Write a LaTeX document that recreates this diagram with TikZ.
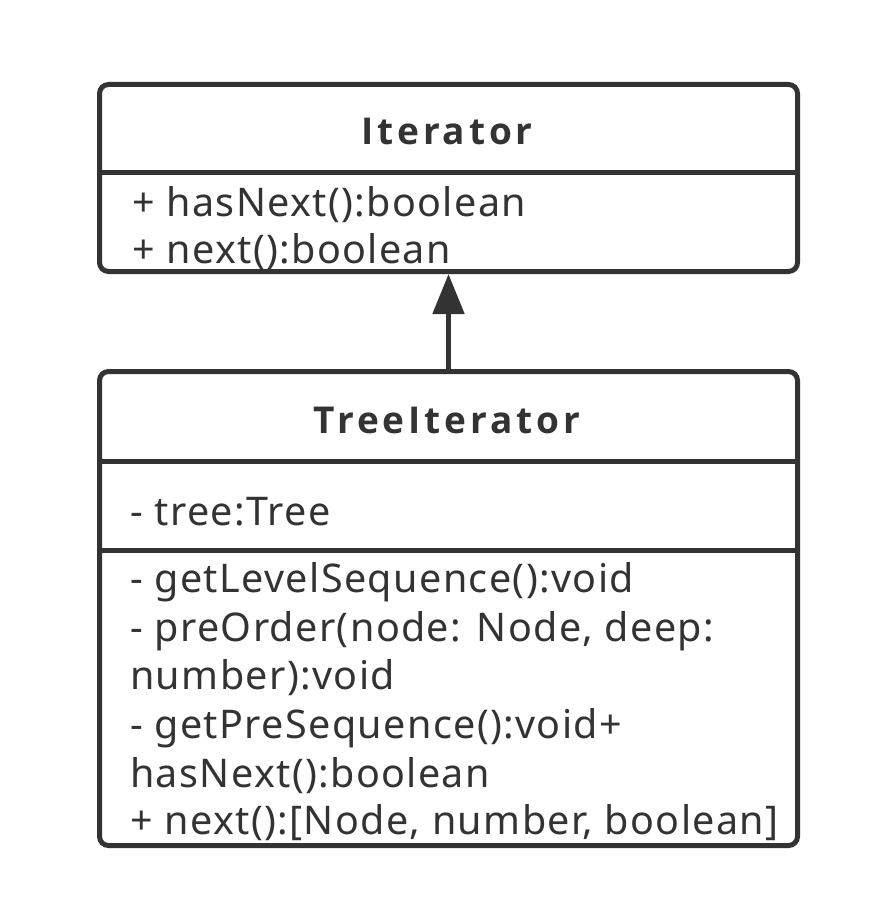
\documentclass[tikz,border=0pt]{standalone}
\usepackage{fontspec}
\setmainfont{Noto Sans}
\newfontfamily\memberfont[LetterSpace=3.5]{Noto Sans}
\newfontfamily\titlefont[LetterSpace=10.5]{Open Sans Bold}
\usetikzlibrary{arrows.meta}
\definecolor{ink}{HTML}{333333}
\tikzset{
  x=1pt, y=-1pt,
  umlbox/.style={draw=ink, line width=5pt, rounded corners=9pt, fill=white, anchor=north west, inner sep=0pt},
  divider/.style={draw=ink, line width=5pt},
  title/.style={anchor=base, inner sep=0pt, text=ink, font=\titlefont\fontsize{37}{44}\selectfont},
  member/.style={anchor=base west, inner sep=0pt, text=ink, font=\memberfont\fontsize{39.5}{47}\selectfont},
  inherit/.style={draw=ink, line width=5pt, -{Triangle[width=31pt,length=40pt]}}
}
\begin{document}
\begin{tikzpicture}
\useasboundingbox[fill=white] (0,0) rectangle (872,920);
% Iterator box
\node[umlbox, minimum width=698pt, minimum height=187pt] (iter) at (97,82) {};
\coordinate (iterdivL) at (97,173);
\coordinate (iterdivR) at (795,173);
\draw[divider] (iterdivL) -- (iterdivR);
\node[title] (itertitle) at (447,145) {Iterator};
\node[member] (iterm1) at (132,216) {+ hasNext():boolean};
\node[member] (iterm2) at (132,263) {+ next():boolean};
% TreeIterator box
\node[umlbox, minimum width=698pt, minimum height=474pt] (tree) at (97,369) {};
\coordinate (treediv1L) at (97,461);
\coordinate (treediv1R) at (795,461);
\coordinate (treediv2L) at (97,550);
\coordinate (treediv2R) at (795,550);
\draw[divider] (treediv1L) -- (treediv1R);
\draw[divider] (treediv2L) -- (treediv2R);
\node[title] (treetitle) at (447,433) {TreeIterator};
\node[member] (treea1) at (130,525) {- tree:Tree};
\node[member] (treem1) at (130,592) {- getLevelSequence():void};
\node[member] (treem2) at (130,641) {- preOrder(node: Node, deep:};
\node[member] (treem3) at (130,689) {number):void};
\node[member] (treem4) at (130,738) {- getPreSequence():void+};
\node[member] (treem5) at (130,787) {hasNext():boolean};
\node[member] (treem6) at (130,834) {+ next():[Node, number, boolean]};
% inheritance
\draw[inherit] (tree.north) -- (iter.south);
\end{tikzpicture}
\end{document}
